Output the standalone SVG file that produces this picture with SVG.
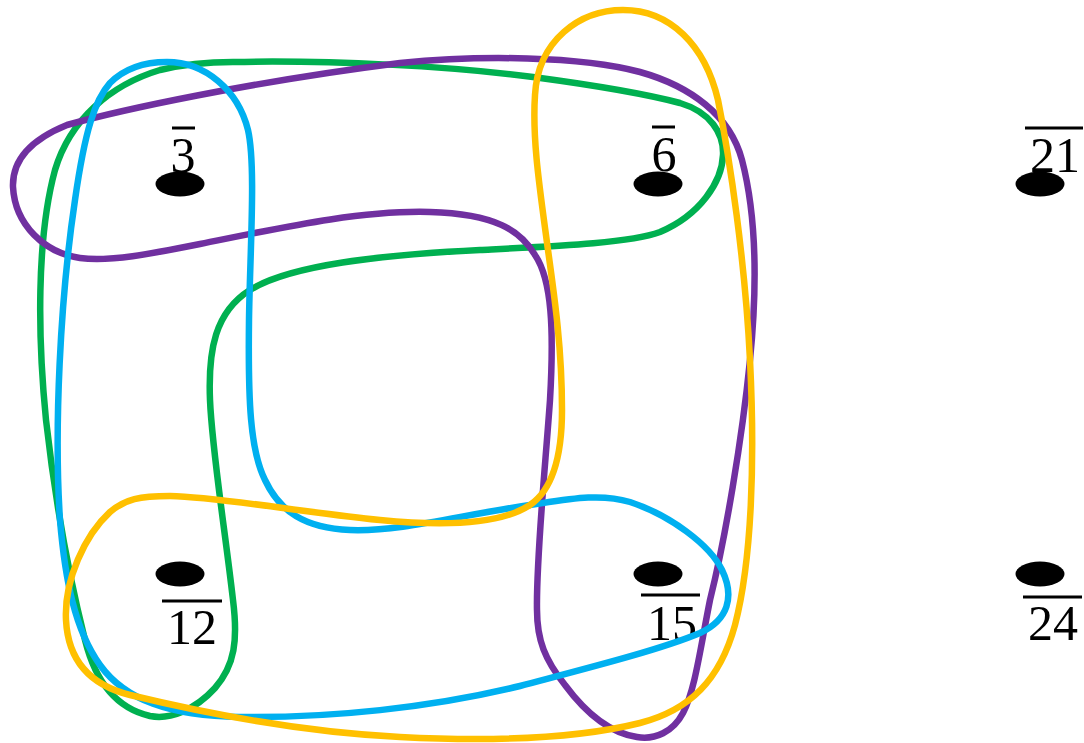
<svg xmlns="http://www.w3.org/2000/svg" width="1084" height="743" viewBox="0 0 1084 743">
<style>
.dot{fill:#000}
.lbl{font-family:"Liberation Serif","Times New Roman",serif;font-size:50px;fill:#000;text-anchor:middle}
.bar{stroke:#000;stroke-width:3}
.set{fill:none;stroke-width:6.5;stroke-linejoin:round}
</style>
<rect width="1084" height="743" fill="#fff"/>
<g id="n3"><ellipse class="dot" cx="180" cy="184" rx="24.5" ry="12.5"/><line class="bar" x1="172" y1="128" x2="195" y2="128"/><text class="lbl" x="183" y="172">3</text></g>
<g id="n6"><ellipse class="dot" cx="658" cy="184" rx="24.5" ry="12.5"/><line class="bar" x1="652" y1="127" x2="675" y2="127"/><text class="lbl" x="664" y="171">6</text></g>
<g id="n21"><ellipse class="dot" cx="1040" cy="184" rx="24.5" ry="12.5"/><line class="bar" x1="1025" y1="128" x2="1083" y2="128"/><text class="lbl" x="1055" y="172">21</text></g>
<g id="n12"><ellipse class="dot" cx="180" cy="574" rx="24.5" ry="12.5"/><line class="bar" x1="162" y1="601" x2="222" y2="601"/><text class="lbl" x="192" y="644">12</text></g>
<g id="n15"><ellipse class="dot" cx="658" cy="574" rx="24.5" ry="12.5"/><line class="bar" x1="641" y1="595" x2="700" y2="595"/><text class="lbl" x="672" y="640">15</text></g>
<g id="n24"><ellipse class="dot" cx="1040" cy="574" rx="24.5" ry="12.5"/><line class="bar" x1="1023" y1="597" x2="1082" y2="597"/><text class="lbl" x="1053" y="640">24</text></g>
<g id="connectors">
<path id="green" class="set" stroke="#00B050" d="M 233,62 C 330,60 450,66 533,77 C 600,86 650,95 680,103 C 710,112 724,133 723,155 C 722,182 700,215 660,232 C 630,243 560,246 480,250 C 380,255 290,265 250,290 C 215,312 208,350 210,400 C 212,450 225,530 233,600 C 238,640 235,665 215,688 C 195,710 170,720 150,716 C 115,708 95,680 85,640 C 70,580 55,500 46,420 C 38,340 36,240 55,170 C 70,120 110,85 160,70 C 185,64 210,62 233,62 Z"/>
<path id="purple" class="set" stroke="#7030A0" d="M 13,187 C 12,160 30,140 67,125 C 120,110 250,82 400,63 C 480,55 580,56 640,72 C 690,86 730,115 742,160 C 755,210 758,280 750,360 C 742,440 725,540 710,600 C 700,650 695,690 683,713 C 673,732 655,740 637,737 C 610,733 585,712 565,685 C 545,660 537,640 537,610 C 536,560 545,470 550,400 C 554,330 552,280 535,255 C 520,230 495,214 430,212 C 360,210 280,228 200,244 C 150,254 110,262 80,258 C 45,253 15,225 13,187 Z"/>
<path id="blue" class="set" stroke="#00B0F0" d="M 167,62 C 205,62 238,90 248,130 C 256,165 250,250 249,320 C 248,400 250,450 265,480 C 280,512 305,528 350,530 C 400,532 460,515 530,505 C 570,499 600,493 630,502 C 670,515 710,545 722,570 C 735,597 728,620 700,633 C 660,650 580,670 520,686 C 430,708 330,718 240,717 C 170,716 125,700 100,665 C 75,630 65,580 60,520 C 54,430 60,300 75,200 C 85,130 95,100 110,83 C 125,68 145,62 167,62 Z"/>
<path id="yellow" class="set" stroke="#FFC000" d="M 623,10 C 670,10 705,45 718,100 C 730,160 745,260 750,360 C 755,460 752,560 735,625 C 720,680 690,710 640,723 C 580,738 500,742 400,737 C 300,732 200,712 130,695 C 90,685 68,660 66,620 C 64,580 85,535 110,512 C 125,499 140,496 170,496 C 220,497 300,512 380,520 C 440,526 500,525 530,505 C 555,488 562,450 562,410 C 562,350 555,300 548,250 C 540,190 532,140 535,95 C 538,40 580,10 623,10 Z"/>
</g>
</svg>
